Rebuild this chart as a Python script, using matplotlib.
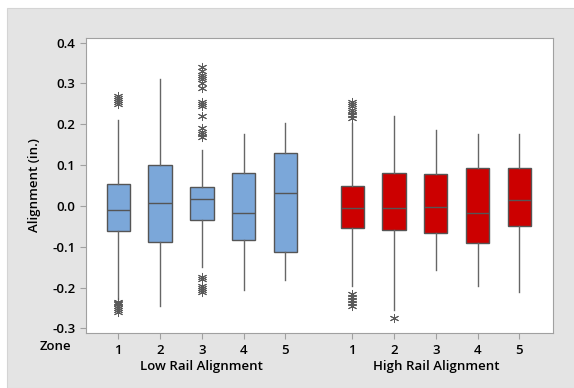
import numpy as np
import matplotlib
matplotlib.use("Agg")
import matplotlib.pyplot as plt
from matplotlib.patches import Rectangle

# values (inches)
zones = ["1", "2", "3", "4", "5"]
groups = ["Low Rail Alignment", "High Rail Alignment"]

low_q1 = [-0.062, -0.089, -0.035, -0.084, -0.113]
low_med = [-0.009, 0.007, 0.016, -0.018, 0.032]
low_q3 = [0.053, 0.099, 0.046, 0.081, 0.130]
low_whislo = [-0.227, -0.246, -0.150, -0.206, -0.181]
low_whishi = [0.211, 0.311, 0.136, 0.175, 0.202]
low_fliers = [
    [0.250, 0.255, 0.260, 0.265, 0.270, -0.235, -0.237, -0.240, -0.245, -0.250, -0.255, -0.260],
    [],
    [0.170, 0.175, 0.180, 0.190, 0.220, 0.245, 0.250, 0.255, 0.290, 0.300, 0.310, 0.315,
     0.320, 0.330, 0.340, -0.175, -0.180, -0.195, -0.200, -0.205, -0.210],
    [],
    [],
]

high_q1 = [-0.055, -0.059, -0.067, -0.091, -0.050]
high_med = [-0.005, -0.005, -0.002, -0.018, 0.014]
high_q3 = [0.050, 0.080, 0.077, 0.092, 0.094]
high_whislo = [-0.195, -0.256, -0.157, -0.197, -0.210]
high_whishi = [0.202, 0.221, 0.185, 0.177, 0.175]
high_fliers = [
    [0.215, 0.222, 0.230, 0.236, 0.245, 0.250, 0.255, -0.215, -0.222, -0.230, -0.238, -0.245],
    [-0.274],
    [],
    [],
    [],
]


def make_stats(q1, med, q3, lo, hi, fl):
    out = []
    for i in range(len(q1)):
        out.append(dict(q1=q1[i], med=med[i], q3=q3[i], whislo=lo[i], whishi=hi[i],
                        fliers=np.array(fl[i])))
    return out


plt.rcParams['font.family'] = ['Open Sans', 'DejaVu Sans']

fig = plt.figure(figsize=(5.74, 3.88), dpi=100)
fig.patches.append(Rectangle((7 / 574, 0), 1, 380 / 388, transform=fig.transFigure,
                             facecolor="#E4E4E4", edgecolor="#D4D4D4", lw=0.8, zorder=-5))
ax = fig.add_axes([0.1493, 0.141, 0.8137, 0.7618])
ax.set_zorder(2)

low_pos = np.arange(5)
high_pos = np.arange(5) + 5.6
flier_style = dict(marker=(6, 2, 0), markersize=6.5, markeredgecolor="#5A5A5A",
                   markeredgewidth=0.7, linestyle="none")
for stats, pos, col in [(make_stats(low_q1, low_med, low_q3, low_whislo, low_whishi, low_fliers), low_pos, "#7BA7D9"),
                        (make_stats(high_q1, high_med, high_q3, high_whislo, high_whishi, high_fliers), high_pos, "#CC0000")]:
    ax.bxp(stats, positions=pos, widths=0.56, patch_artist=True, showcaps=False,
           boxprops=dict(facecolor=col, edgecolor="#555555", lw=1.0),
           medianprops=dict(color="#555555", lw=1.0),
           whiskerprops=dict(color="#666666", lw=1.0),
           flierprops=flier_style)

ax.set_xlim(-0.78, 10.4)
ax.set_ylim(-0.312, 0.412)
ax.set_yticks([-0.3, -0.2, -0.1, 0.0, 0.1, 0.2, 0.3, 0.4])
ax.set_yticklabels(["-0.3", "-0.2", "-0.1", "0.0", "0.1", "0.2", "0.3", "0.4"])
ax.set_xticks(np.concatenate([low_pos, high_pos]))
ax.set_xticklabels(zones + zones)
for spine in ax.spines.values():
    spine.set_color("#A0A0A0")
ax.tick_params(colors="#A0A0A0", length=4, width=0.8, labelcolor="black", labelsize=9.5)
for lab in ax.get_xticklabels() + ax.get_yticklabels():
    lab.set_fontweight("semibold")
ax.set_ylabel("Alignment (in.)", fontsize=9.5, fontweight="semibold", labelpad=8)

ax.text(-0.064, -0.022, "Zone", transform=ax.transAxes, ha="center", va="top",
        fontsize=9.5, fontweight="semibold")
ax.text(low_pos[2], -0.09, groups[0], transform=ax.get_xaxis_transform(), ha="center",
        va="top", fontsize=9.5, fontweight="semibold")
ax.text(high_pos[2], -0.09, groups[1], transform=ax.get_xaxis_transform(), ha="center",
        va="top", fontsize=9.5, fontweight="semibold")

fig.savefig("out.png", dpi=100)
